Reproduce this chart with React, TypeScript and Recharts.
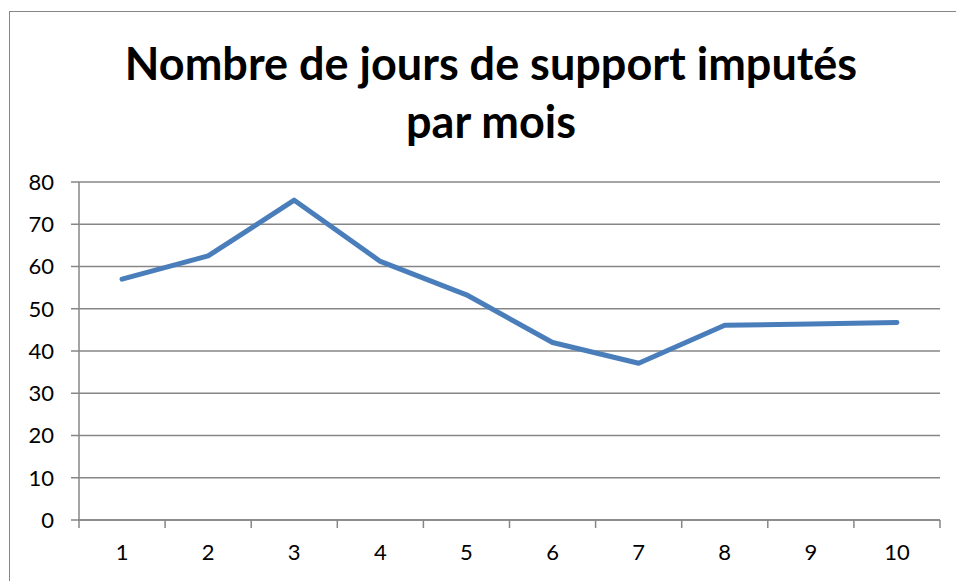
import { CartesianGrid, Line, LineChart, XAxis, YAxis } from "recharts";

const mois = [1, 2, 3, 4, 5, 6, 7, 8, 9, 10];
const jours = [57.0, 62.5, 75.7, 61.2, 53.3, 42.0, 37.1, 46.1, 46.4, 46.75];
const yTicks = [0, 10, 20, 30, 40, 50, 60, 70, 80];
// tick marks sit between categories, Excel style
const boundaryTicks = [0.5, 1.5, 2.5, 3.5, 4.5, 5.5, 6.5, 7.5, 8.5, 9.5, 10.5];

const data = mois.map((m, i) => ({ mois: m, jours: jours[i] }));

const GRAY = "#868686";
const FONT = "Lato, 'Open Sans', sans-serif";

export default function App() {
  return (
    <div
      style={{
        position: "absolute",
        left: 0,
        top: 0,
        width: 956,
        height: 581,
        overflow: "hidden",
        background: "#fff",
        fontFamily: FONT,
      }}
    >
      <div
        style={{
          position: "absolute",
          left: 9,
          top: 11,
          width: 1000,
          height: 1000,
          border: `1.5px solid ${GRAY}`,
        }}
      />
      <div
        style={{
          position: "absolute",
          left: 0,
          top: 34,
          width: 982,
          textAlign: "center",
          fontSize: 45,
          fontWeight: 700,
          lineHeight: "58px",
          color: "#000",
        }}
      >
        Nombre de jours de support imputés
        <br />
        par mois
      </div>
      <div style={{ position: "absolute", left: 0, top: 0 }}>
        <LineChart
          width={956}
          height={581}
          data={data}
          margin={{ top: 182, right: 16, bottom: 0, left: 0 }}
        >
          <CartesianGrid
            vertical={false}
            stroke={GRAY}
            strokeWidth={1.5}
            strokeDasharray=""
          />
          <XAxis
            xAxisId="bounds"
            dataKey="mois"
            type="number"
            domain={[0.5, 10.5]}
            allowDataOverflow
            ticks={boundaryTicks}
            interval={0}
            tickFormatter={() => ""}
            tickSize={8}
            height={1}
            stroke={GRAY}
            strokeWidth={1.5}
            tickLine={{ stroke: GRAY, strokeWidth: 1.5 }}
          />
          <XAxis
            xAxisId="labels"
            dataKey="mois"
            type="number"
            domain={[0.5, 10.5]}
            allowDataOverflow
            ticks={mois}
            interval={0}
            height={60}
            axisLine={false}
            tickLine={false}
            tickSize={0}
            tickMargin={23}
            tick={{ fill: "#000", fontSize: 22, fontFamily: FONT }}
          />
          <YAxis
            domain={[0, 80]}
            ticks={yTicks}
            interval={0}
            width={79}
            tickSize={8}
            tickMargin={17}
            stroke={GRAY}
            strokeWidth={1.5}
            tickLine={{ stroke: GRAY, strokeWidth: 1.5 }}
            tick={{ fill: "#000", fontSize: 22, fontFamily: FONT }}
          />
          <Line
            xAxisId="labels"
            type="linear"
            dataKey="jours"
            stroke="#4A7EBB"
            strokeWidth={5}
            strokeLinejoin="round"
            strokeLinecap="round"
            dot={false}
            activeDot={false}
            isAnimationActive={false}
          />
        </LineChart>
      </div>
    </div>
  );
}
